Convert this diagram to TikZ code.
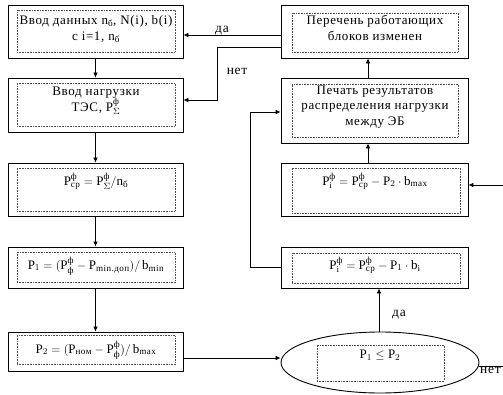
\documentclass[tikz,border=0pt]{standalone}
\usepackage{amsmath}
\usepackage{fontspec}
\setmainfont{Liberation Serif}[LetterSpace=5]
\usetikzlibrary{arrows.meta,shapes.geometric}
\newcommand{\PP}{\mathrm{P}}
\newcommand{\tx}[1]{\text{#1}}
\begin{document}
\begin{tikzpicture}[x=1pt,y=-1pt,
  box/.style={draw, line width=0.9pt, inner sep=0pt},
  inbox/.style={draw, densely dotted, line width=0.6pt, draw=black!70, inner sep=0pt},
  txt/.style={align=center, inner sep=0pt, font=\fontsize{13}{15.5}\selectfont},
  conn/.style={line width=0.7pt},
  arr/.style={conn, -{Latex[length=5pt,width=4.5pt]}},
  lbl/.style={inner sep=0pt, font=\fontsize{13.5}{14}\selectfont}]
\useasboundingbox (0,0) rectangle (503,395);
\clip (0,0) rectangle (503,395);
% left column
\node[box, minimum width=175pt, minimum height=53pt] (b1) at (95.5,31.5) {};
\node[inbox, minimum width=158pt, minimum height=42pt] (i1) at (96,31) {};
\node[txt] (t1) at (96,29) {Ввод данных n\textsubscript{б}, N(i), b(i)\\с i=1, n\textsubscript{б}};

\node[box, minimum width=175pt, minimum height=54pt] (b2) at (95.5,105) {};
\node[inbox, minimum width=158pt, minimum height=43pt] (i2) at (96,105) {};
\node[txt] (t2) at (96,101) {Ввод нагрузки\\ТЭС, $\PP^{\tx{ф}}_{\Sigma}$};

\node[box, minimum width=175pt, minimum height=53pt] (b3) at (95.5,189.5) {};
\node[inbox, minimum width=158pt, minimum height=43pt] (i3) at (96,189.5) {};
\node[txt] (t3) at (96,181) {$\PP^{\tx{ф}}_{\tx{ср}} = \PP^{\tx{ф}}_{\Sigma}/\mathrm{n}_{\tx{б}}$};

\node[box, minimum width=175pt, minimum height=41pt] (b4) at (95.5,267.5) {};
\node[inbox, minimum width=158pt, minimum height=30pt] (i4) at (96,267.5) {};
\node[txt] (t4) at (96,266) {$\PP_1 = (\PP^{\tx{ф}}_{\tx{ф}} - \PP_{\tx{min.доп}})/\,\mathrm{b}_{\tx{min}}$};

\node[box, minimum width=175pt, minimum height=39pt] (b5) at (95.5,351.5) {};
\node[inbox, minimum width=158pt, minimum height=29pt] (i5) at (96,350) {};
\node[txt] (t5) at (96,350) {$\PP_2 = (\PP_{\tx{ном}} - \PP^{\tx{ф}}_{\tx{ф}})/\,\mathrm{b}_{\tx{max}}$};

% right column
\node[box, minimum width=187pt, minimum height=53pt] (r1) at (374.5,31.5) {};
\node[inbox, minimum width=166pt, minimum height=39pt] (j1) at (375,32.5) {};
\node[txt] (s1) at (375,28) {Перечень работающих\\блоков изменен};

\node[box, minimum width=187pt, minimum height=65pt] (r2) at (374.5,110.5) {};
\node[inbox, minimum width=166pt, minimum height=53pt] (j2) at (375,110.5) {};
\node[txt] (s2) at (375,107) {Печать результатов\\распределения нагрузки\\между ЭБ};

\node[box, minimum width=187pt, minimum height=53pt] (r3) at (374.5,189.5) {};
\node[inbox, minimum width=168pt, minimum height=45pt] (j3) at (376,190.5) {};
\node[txt] (s3) at (375,181) {$\PP^{\tx{ф}}_{\mathrm{i}} = \PP^{\tx{ф}}_{\tx{ср}} - \PP_2\cdot \mathrm{b}_{\tx{max}}$};

\node[box, minimum width=187pt, minimum height=41pt] (r4) at (374.5,267.5) {};
\node[inbox, minimum width=168pt, minimum height=30pt] (j4) at (376,268) {};
\node[txt] (s4) at (375,265) {$\PP^{\tx{ф}}_{\mathrm{i}} = \PP^{\tx{ф}}_{\tx{ср}} - \PP_1\cdot \mathrm{b}_{\mathrm{i}}$};

\node[ellipse, draw, line width=0.9pt, minimum width=198pt, minimum height=61pt, inner sep=0pt] (e) at (380,362.5) {};
\node[inbox, minimum width=127pt, minimum height=36pt] (je) at (380.5,363) {};
\node[txt] (se) at (380,355) {$\PP_1 \le \PP_2$};

% connectors left column
\draw[arr] (b1.south) -- (b2.north);
\draw[arr] (b2.south) -- (b3.north);
\draw[arr] (b3.south) -- (b4.north);
\draw[arr] (b4.south) -- (b5.north);
\draw[arr] (b5.east |- 0,358) -- (e.west |- 0,358);
% right column
\draw[arr] (e.north -| 379,0) -- (r4.south -| 379,0);
\node[lbl] (da2) at (399,315) {да};
\draw[arr] (r3.north -| 368,0) -- (r2.south -| 368,0);
\draw[arr] (r2.north -| 368,0) -- (r1.south -| 368,0);
\draw[arr] (r4.west |- 0,267) -- (250,267) -- (250,112) -- (r2.west |- 0,112);
\coordinate (far) at (515,185);
\draw[arr] (e.east |- 0,366) -- (far |- 0,366) -- (far) -- (r3.east |- far);
\node[lbl, anchor=north west] (net2) at (480,366.5) {нет};
% feedback to input
\draw[arr] (r1.west |- 0,35) -- (b1.east |- 0,35);
\node[lbl, anchor=south] (da1) at (222,35) {да};
\draw[arr] (r1.west |- 0,47) -- (217,47) -- (217,100) -- (b2.east |- 0,100);
\node[lbl] (net1) at (237,71) {нет};
\end{tikzpicture}
\end{document}
